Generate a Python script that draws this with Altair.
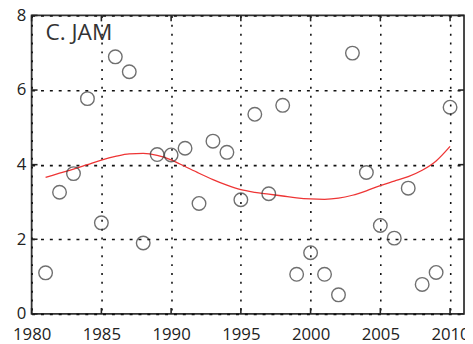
import altair as alt
import pandas as pd

years = list(range(1981, 2011))
values = [1.10, 3.26, 3.76, 5.77, 2.44, 6.89, 6.49, 1.90, 4.27, 4.26,
          4.44, 2.96, 4.63, 4.33, 3.06, 5.35, 3.22, 5.59, 1.06, 1.64,
          1.06, 0.51, 6.99, 3.79, 2.37, 2.03, 3.37, 0.79, 1.11, 5.54]
smooth = [3.66, 3.77, 3.88, 4.00, 4.12, 4.22, 4.29, 4.30, 4.25, 4.13,
          3.95, 3.77, 3.60, 3.45, 3.33, 3.26, 3.21, 3.16, 3.11, 3.08,
          3.07, 3.10, 3.18, 3.30, 3.44, 3.56, 3.68, 3.85, 4.10, 4.49]
x_ticks = [1980, 1985, 1990, 1995, 2000, 2005, 2010]
y_ticks = [0, 2, 4, 6, 8]
label = "C. JAM"

df = pd.DataFrame({"year": years, "value": values, "smooth": smooth})
xt = pd.DataFrame({"t": x_ticks})
yt = pd.DataFrame({"t": y_ticks})

FONT = "Open Sans"
xs = alt.Scale(domain=[1980, 2011], nice=False, zero=False)
ys = alt.Scale(domain=[0, 8], nice=False)

xaxis = alt.Axis(values=x_ticks, format="d", grid=True, gridDash=[2, 7], gridColor="#111",
                 gridWidth=1.6, ticks=False, labelFont=FONT, labelFontSize=17,
                 labelColor="#222", labelPadding=13, domain=False, title=None,
                 labelFlush=False)
yaxis = alt.Axis(values=y_ticks, grid=True, gridDash=[3, 6], gridColor="#111",
                 gridWidth=1.6, ticks=False, labelFont=FONT, labelFontSize=17,
                 labelColor="#222", labelPadding=6, domain=False, title=None)

points = alt.Chart(df).mark_point(shape="circle", filled=False, size=190,
                                  color="#333", strokeWidth=1.4).encode(
    x=alt.X("year:Q", scale=xs, axis=xaxis),
    y=alt.Y("value:Q", scale=ys, axis=yaxis),
)

line = alt.Chart(df).mark_line(color="#ee3535", strokeWidth=1.3,
                               interpolate="monotone").encode(
    x=alt.X("year:Q", scale=xs),
    y=alt.Y("smooth:Q", scale=ys),
)

tick_bottom = alt.Chart(xt).mark_rule(color="#222", strokeWidth=1.6).encode(
    x=alt.X("t:Q", scale=xs), y=alt.value(303), y2=alt.value(297))
tick_top = alt.Chart(xt).mark_rule(color="#222", strokeWidth=1.6).encode(
    x=alt.X("t:Q", scale=xs), y=alt.value(0), y2=alt.value(6))
tick_left = alt.Chart(yt).mark_rule(color="#222", strokeWidth=1.6).encode(
    y=alt.Y("t:Q", scale=ys), x=alt.value(0), x2=alt.value(6))
tick_right = alt.Chart(yt).mark_rule(color="#222", strokeWidth=1.6).encode(
    y=alt.Y("t:Q", scale=ys), x=alt.value(439), x2=alt.value(433))

title = alt.Chart(pd.DataFrame({"s": [label]})).mark_text(
    align="left", baseline="alphabetic", font=FONT, fontSize=23, color="#333").encode(
    text="s:N", x=alt.value(14), y=alt.value(25))

chart = alt.layer(tick_bottom, tick_top, tick_left, tick_right, line, points, title).properties(
    width=439, height=303,
    padding={"left": 24, "top": 5, "right": 1, "bottom": 26},
    autosize=alt.AutoSizeParams(type="none"),
    background="white",
).configure_view(stroke="#333", strokeWidth=1.8)

chart.save("out.html", embed_options={"renderer": "svg", "actions": False})
